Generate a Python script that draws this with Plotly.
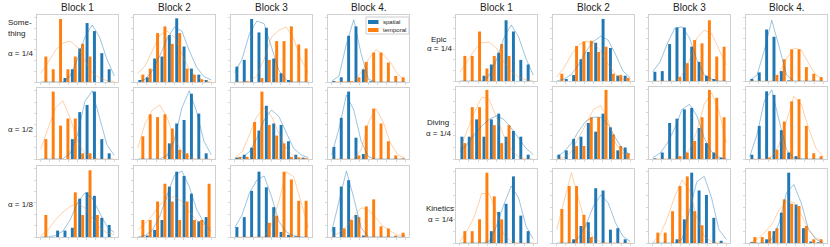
import plotly.graph_objects as go

W, H = 830, 247

# ---------------- data (values are % of panel height) ----------------
bins = list(range(10))
kde_x = [i - 0.5 for i in range(11)]
col_titles = ["Block 1", "Block 2", "Block 3", "Block 4."]
series_names = ["spatial", "temporal"]

left_spatial_bars = [
    [[0, 0, 0, 6, 19, 50, 88, 76, 43, 19], [3, 7, 35, 38, 70, 95, 53, 20, 11, 3],
     [23, 33, 94, 74, 81, 35, 13, 3, 0, 0], [1.5, 7, 69, 83, 19, 1, 0, 0, 0, 0]],
    [[0, 0, 0, 0, 28, 66, 76, 95, 28, 8], [0, 0, 0, 0, 22, 50, 55, 92, 64, 8],
     [2, 6, 16, 40, 75, 50, 48, 25, 6, 2], [17, 58, 95, 30, 7, 0, 0, 0, 0, 0]],
    [[0, 0, 9, 9, 13, 54, 63, 58, 27, 17], [0, 2, 10, 24, 71, 92, 86, 61, 22, 28],
     [14, 28, 65, 92, 70, 42, 7, 3, 1, 0], [14, 71, 80, 31, 2, 0, 0, 0, 0, 0]],
]
left_temporal_bars = [
    [[38, 19, 94, 19, 38, 57, 38, 0, 0, 0], [11, 20, 73, 83, 57, 73, 20, 11, 4, 0],
     [0, 1, 0, 6, 33, 61, 61, 83, 56, 50], [0, 0, 1, 7, 30, 44, 44, 29, 9, 7]],
    [[28, 95, 47, 57, 57, 8, 8, 0, 0, 0], [32, 63, 59, 63, 43, 13, 8, 0, 0, 0],
     [3, 3, 52, 95, 48, 33, 22, 3, 2, 1], [0, 0, 0, 5, 47, 71, 50, 25, 5, 1]],
    [[31, 0, 0, 0, 63, 31, 94, 31, 0, 0], [24, 24, 50, 75, 50, 24, 50, 24, 24, 75],
     [0, 0, 0, 0, 20, 30, 92, 81, 51, 51], [0, 12, 24, 28, 43, 53, 15, 12, 2, 6]],
]
left_spatial_kde = [
    [[0, 0, 0, 0, 9, 34, 67, 85, 67, 34, 9], [0, 4, 17, 39, 65, 82, 76, 47, 22, 8, 3],
     [14, 34, 72, 91, 87, 52, 17, 3, 0, 0, 0], [1, 9, 57, 93, 42, 4, 0, 0, 0, 0, 0]],
    [[0, 0, 0, 0, 8, 34, 81, 96, 58, 20, 5], [0, 0, 0, 0, 5, 27, 72, 96, 67, 25, 6],
     [0, 2, 10, 29, 55, 69, 60, 38, 15, 6, 2], [6, 43, 90, 69, 25, 3, 0, 0, 0, 0, 0]],
    [[0, 0, 2, 8, 24, 48, 62, 55, 34, 15, 6], [0, 2, 10, 29, 59, 87, 93, 71, 39, 20, 8],
     [13, 31, 62, 80, 86, 57, 22, 7, 2, 0, 0], [8, 52, 93, 55, 13, 0, 0, 0, 0, 0, 0]],
]
left_temporal_kde = [
    [[13, 29, 47, 58, 61, 52, 32, 14, 6, 2, 1], [13, 24, 47, 70, 76, 67, 42, 19, 7, 2, 0],
     [0, 0, 1, 9, 34, 67, 77, 82, 65, 34, 14], [0, 0, 0, 1, 14, 34, 48, 41, 29, 11, 3]],
    [[14, 43, 72, 82, 58, 25, 8, 2, 0, 0, 0], [15, 50, 69, 76, 58, 29, 10, 3, 0, 0, 0],
     [2, 10, 34, 60, 72, 60, 36, 15, 4, 1, 0], [0, 0, 0, 0, 13, 52, 71, 52, 22, 6, 1]],
    [[2, 10, 24, 35, 43, 47, 41, 27, 13, 6, 3], [10, 19, 31, 45, 54, 57, 50, 36, 24, 17, 13],
     [0, 0, 0, 0, 0, 17, 50, 92, 85, 50, 13], [0, 6, 15, 29, 41, 38, 27, 15, 8, 3, 2]],
]

right_spatial_bars = [
    [[0, 0, 0, 8, 25, 43, 92, 75, 32, 25], [0, 3, 9, 33, 44, 58, 94, 50, 8, 8],
     [14, 15, 56, 81, 81, 52, 29, 8, 3, 0], [3, 13, 78, 67, 15, 1, 0, 0, 0, 0]],
    [[31, 31, 55, 31, 55, 63, 31, 39, 31, 6], [6, 12, 28, 31, 50, 38, 63, 44, 12, 16],
     [1, 9, 50, 56, 69, 71, 43, 22, 9, 2], [6, 46, 94, 89, 40, 9, 4, 0, 0, 0]],
    [[0, 0, 0, 0, 16, 42, 53, 90, 37, 16], [0, 0, 5, 23, 28, 74, 71, 18, 20, 5],
     [0, 0, 0, 5, 32, 95, 71, 65, 34, 3], [1, 0, 5, 16, 41, 95, 52, 20, 2, 1]],
]
right_temporal_bars = [
    [[38, 38, 75, 19, 38, 56, 38, 0, 0, 0], [11, 0, 53, 60, 61, 44, 52, 11, 9, 5],
     [0, 0, 0, 6, 27, 62, 57, 92, 37, 52], [0, 0, 0, 9, 33, 48, 48, 21, 11, 6]],
    [[22, 72, 72, 96, 47, 22, 47, 0, 0, 0], [0, 0, 18, 18, 58, 58, 96, 34, 18, 8],
     [0, 0, 0, 4, 9, 25, 58, 96, 85, 58], [0, 0, 2, 13, 52, 80, 83, 46, 8, 4]],
    [[16, 16, 32, 95, 63, 32, 0, 0, 0, 0], [46, 77, 77, 38, 8, 0, 0, 0, 0, 0],
     [14, 14, 43, 77, 90, 43, 24, 0, 0, 0], [8, 8, 16, 20, 59, 53, 50, 23, 5, 5]],
]
right_spatial_kde = [
    [[0, 0, 0, 0, 8, 32, 65, 85, 67, 34, 9], [0, 3, 10, 25, 45, 60, 68, 62, 40, 15, 5],
     [14, 29, 57, 80, 82, 65, 32, 9, 3, 0, 0], [1, 9, 47, 92, 52, 9, 0, 0, 0, 0, 0]],
    [[10, 20, 34, 46, 55, 60, 55, 43, 29, 15, 6], [3, 10, 22, 39, 53, 58, 58, 48, 29, 13, 6],
     [2, 8, 22, 43, 69, 76, 60, 29, 10, 2, 0], [3, 34, 81, 96, 53, 13, 1, 0, 0, 0, 0]],
    [[0, 0, 0, 0, 2, 23, 52, 77, 61, 23, 5], [0, 0, 0, 7, 25, 50, 65, 54, 27, 9, 2],
     [0, 0, 0, 0, 5, 45, 83, 90, 61, 18, 5], [0, 0, 0, 5, 27, 68, 79, 54, 18, 5, 0]],
]
right_temporal_kde = [
    [[13, 29, 47, 58, 59, 50, 29, 14, 6, 2, 0], [6, 20, 40, 55, 60, 58, 45, 25, 10, 3, 1],
     [0, 0, 0, 0, 9, 32, 65, 77, 72, 47, 24], [0, 0, 0, 0, 12, 34, 50, 47, 27, 9, 3]],
    [[13, 39, 65, 86, 83, 58, 32, 13, 3, 0, 0], [0, 2, 10, 29, 50, 69, 74, 53, 22, 8, 3],
     [0, 0, 0, 0, 2, 13, 39, 76, 92, 67, 22], [0, 0, 0, 3, 20, 53, 87, 76, 43, 15, 3]],
    [[2, 16, 36, 67, 67, 41, 11, 2, 0, 0, 0], [18, 56, 95, 59, 23, 7, 1, 0, 0, 0, 0],
     [1, 11, 34, 63, 85, 72, 34, 9, 2, 0, 0], [0, 5, 14, 25, 45, 56, 55, 38, 18, 7, 2]],
]

# ---------------- layout geometry (pixels) ----------------
BLUE = "#1f77b4"
ORANGE = "#ff7f0e"
PW = 81
left_cols = [37, 134, 231, 328]
right_cols = [456, 553, 649, 746]
left_rows = [(15, 82), (88, 159), (166, 237)]
right_rows = [(15, 81), (87, 159), (169, 243)]

FONT = "Liberation Sans, Arial, sans-serif"


def px(x):
    return x / W


def py(y):
    return 1 - y / H


fig = go.Figure()
layout = dict(
    width=W, height=H, margin=dict(l=0, r=0, t=0, b=0),
    paper_bgcolor="white", plot_bgcolor="white", showlegend=False,
    font=dict(family=FONT, color="#222"),
)
annotations = []
shapes = []

groups = [
    (left_cols, left_rows, left_spatial_bars, left_temporal_bars, left_spatial_kde, left_temporal_kde),
    (right_cols, right_rows, right_spatial_bars, right_temporal_bars, right_spatial_kde, right_temporal_kde),
]

n = 0
for cols, rows, sb, tb, sk, tk in groups:
    for r, (y0, y1) in enumerate(rows):
        for c, x0 in enumerate(cols):
            n += 1
            xa = "x" if n == 1 else f"x{n}"
            ya = "y" if n == 1 else f"y{n}"
            fig.add_trace(go.Bar(x=bins, y=sb[r][c], width=0.4, offset=-0.4,
                                 marker=dict(color=BLUE, line=dict(width=0)),
                                 name=series_names[0], xaxis=xa, yaxis=ya))
            fig.add_trace(go.Bar(x=bins, y=tb[r][c], width=0.4, offset=0.0,
                                 marker=dict(color=ORANGE, line=dict(width=0)),
                                 name=series_names[1], xaxis=xa, yaxis=ya))
            fig.add_trace(go.Scatter(x=kde_x, y=sk[r][c], mode="lines",
                                     line=dict(color=BLUE, width=0.8), opacity=0.55,
                                     xaxis=xa, yaxis=ya, hoverinfo="skip"))
            fig.add_trace(go.Scatter(x=kde_x, y=tk[r][c], mode="lines",
                                     line=dict(color=ORANGE, width=0.8), opacity=0.45,
                                     xaxis=xa, yaxis=ya, hoverinfo="skip"))
            kx = "xaxis" if n == 1 else f"xaxis{n}"
            ky = "yaxis" if n == 1 else f"yaxis{n}"
            layout[kx] = dict(domain=[px(x0), px(x0 + PW)], range=[-1, 10], anchor=ya,
                              showgrid=False, zeroline=False, showticklabels=False,
                              showline=True, mirror=True, linecolor="#d0d0d0", linewidth=1,
                              ticks="outside", ticklen=2, tickcolor="#d8d8d8", tick0=-0.5, dtick=1.25)
            layout[ky] = dict(domain=[py(y1), py(y0)], range=[0, 100], anchor=xa,
                              showgrid=False, zeroline=False, showticklabels=False,
                              showline=True, mirror=True, linecolor="#d0d0d0", linewidth=1,
                              ticks="outside", ticklen=2, tickcolor="#d8d8d8", tick0=0, dtick=16)
            if r == 0:
                annotations.append(dict(text=col_titles[c], x=px(x0 + PW / 2), y=py(8),
                                        xref="paper", yref="paper", showarrow=False,
                                        xanchor="center", yanchor="middle",
                                        font=dict(size=10, family=FONT, color="#222")))

# row labels
def label(text, x, y, anchor="left"):
    annotations.append(dict(text=text, x=px(x), y=py(y), xref="paper", yref="paper",
                            showarrow=False, xanchor=anchor, yanchor="middle",
                            font=dict(size=8, family=FONT, color="#222")))

label("Some-", 6, 23)
label("thing", 6, 33)
label("α = 1/4", 6, 53)
label("α = 1/2", 6, 129)
label("α = 1/8", 6, 204)
label("Epic", 439, 39, "center")
label("α = 1/4", 439, 48, "center")
label("Diving", 438, 122, "center")
label("α = 1/4", 438, 133, "center")
label("Kinetics", 440, 208, "center")
label("α = 1/4", 440, 219, "center")

# legend (drawn in Block 4 panel of the first row)
shapes.append(dict(type="rect", xref="paper", yref="paper", x0=px(366), x1=px(409),
                   y0=py(34), y1=py(17), line=dict(color="#cccccc", width=1),
                   fillcolor="rgba(255,255,255,0.8)", layer="above"))
for i, (col, name) in enumerate(zip([BLUE, ORANGE], series_names)):
    yc = 22 + 8 * i
    shapes.append(dict(type="rect", xref="paper", yref="paper", x0=px(368), x1=px(378.5),
                       y0=py(yc + 2), y1=py(yc - 2), line=dict(width=0), fillcolor=col,
                       layer="above"))
    annotations.append(dict(text=name, x=px(380.5), y=py(yc), xref="paper", yref="paper",
                            showarrow=False, xanchor="left", yanchor="middle",
                            font=dict(size=6, family=FONT, color="#222")))

layout["annotations"] = annotations
layout["shapes"] = shapes
layout["barmode"] = "overlay"
layout["hovermode"] = False
fig.update_layout(**layout)
fig.write_html("out.html", config={"displayModeBar": False, "staticPlot": True},
               post_script="document.body.style.margin='0px';document.body.style.overflow='hidden';")
